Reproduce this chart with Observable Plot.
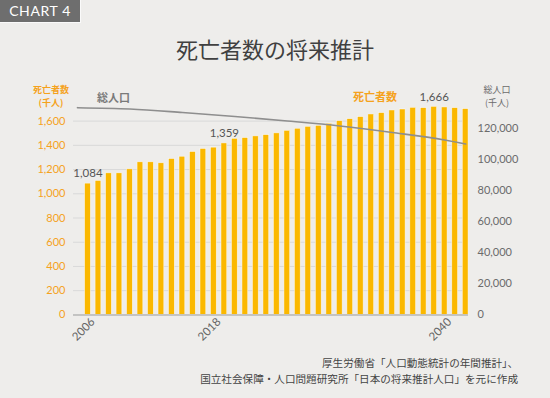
<!DOCTYPE html>
<html>
<head>
<meta charset="utf-8">
<script src="https://cdn.jsdelivr.net/npm/d3@7"></script>
<script src="https://cdn.jsdelivr.net/npm/@observablehq/plot@0.6"></script>
<style>
  html, body { margin: 0; padding: 0; background: #eeedeb; }
  #wrap { position: relative; width: 550px; height: 398px; background: #eeedeb; overflow: hidden;
          font-family: "Noto Sans CJK JP", Lato, sans-serif; }
  .abs { position: absolute; white-space: nowrap; }
  #tag { left: 0; top: 0; width: 80px; height: 22px; background: #6e6e6e; color: #fff;
         font-family: Lato, "Noto Sans", sans-serif; font-size: 14px; letter-spacing: 0.6px;
         line-height: 22px; text-align: center; border-right: 1px solid #fafafa; border-bottom: 1px solid #fafafa; }
  #title { left: 0; width: 550px; top: 33px; text-align: center; font-size: 22px; color: #404040; line-height: 30px; }
  .unit { width: 50px; text-align: center; font-size: 9px; line-height: 13px; }
  #lunit1, #lunit2 { left: 26px; color: #f5a21c; font-weight: 700; }
  #runit1, #runit2 { left: 472px; color: #6b6b6b; }
  #lunit1, #runit1 { top: 82.5px; }
  #lunit2, #runit2 { top: 95.5px; }
  #poplab { left: 97px; top: 89px; color: #7a7a7a; font-size: 11px; font-weight: 700; }
  #deathlab { left: 353px; top: 88px; color: #f5a21c; font-size: 11px; font-weight: 700; }
  #src { right: 32px; top: 355px; text-align: right; color: #444; font-size: 10.6px; line-height: 16px; }
  svg { position: absolute; left: 0; top: 0; }
</style>
</head>
<body>
<div id="wrap">
  <div id="tag" class="abs">CHART 4</div>
  <div id="title" class="abs">死亡者数の将来推計</div>
  <div id="lunit1" class="abs unit">死亡者数</div>
  <div id="lunit2" class="abs unit">(千人)</div>
  <div id="runit1" class="abs unit">総人口</div>
  <div id="runit2" class="abs unit">(千人)</div>
  <div id="poplab" class="abs">総人口</div>
  <div id="deathlab" class="abs">死亡者数</div>
  <div id="src" class="abs">厚生労働省「人口動態統計の年間推計」、<br>国立社会保障・人口問題研究所「日本の将来推計人口」を元に作成</div>
</div>
<script>
// Years (categories)
const years = [2006, 2007, 2008, 2009, 2010, 2011, 2012, 2013, 2014, 2015, 2016, 2017, 2018,
  2019, 2020, 2021, 2022, 2023, 2024, 2025, 2026, 2027, 2028, 2029, 2030, 2031, 2032, 2033,
  2034, 2035, 2036, 2037, 2038, 2039, 2040, 2041, 2042];
// Deaths (thousand persons)
const deaths = [1084, 1106, 1169, 1169, 1202, 1260, 1260, 1252, 1287, 1306, 1345, 1370, 1381,
  1416, 1454, 1460, 1474, 1484, 1499, 1520, 1537, 1553, 1561, 1578, 1600, 1616, 1633, 1655,
  1666, 1688, 1696, 1710, 1707, 1718, 1713, 1707, 1699];
// Total population (thousand persons)
const popYears = [2005, 2010, 2015, 2020, 2025, 2030, 2035, 2040, 2042];
const popValues = [133080, 132240, 130000, 127420, 124530, 121320, 117150, 112330, 109760];
// Tick labels
const leftTicks = [0, 200, 400, 600, 800, 1000, 1200, 1400, 1600];
const rightTicks = [0, 20000, 40000, 60000, 80000, 100000, 120000];
const xTicks = [2006, 2018, 2040];
// Value annotations
const labelYears = [2006, 2019, 2039];
const labelTexts = ["1,084", "1,359", "1,666"];

const leftMax = 1800, rightMax = 140000;
const ratio = leftMax / rightMax;

const bars = years.map((y, i) => ({year: y, deaths: deaths[i]}));
const pop = popYears.map((y, i) => ({year: y, pop: popValues[i]}));
const labels = labelYears.map((y, i) => ({year: y, text: labelTexts[i], v: deaths[years.indexOf(y)]}));
const fmt = d3.format(",");

const numFont = "Lato, 'Noto Sans', sans-serif";

const chart = Plot.plot({
  width: 550,
  height: 398,
  marginTop: 96.4,
  marginBottom: 83.6,
  marginLeft: 73,
  marginRight: 82,
  style: {background: "transparent", fontFamily: numFont, fontSize: "11px", overflow: "visible"},
  x: {type: "linear", domain: [2004.62, 2042.27]},
  y: {domain: [0, leftMax]},
  marks: [
    Plot.gridY(leftTicks, {stroke: "#d9d9d9", strokeOpacity: 1, strokeWidth: 1}),
    Plot.rectY(bars, {x1: d => d.year - 0.275, x2: d => d.year + 0.275, y: "deaths",
      fill: "#fbb800", stroke: "#fbfbfb", strokeWidth: 0.6, strokeOpacity: 0.8}),
    Plot.ruleY([0], {stroke: "#b8b8b8", strokeWidth: 1.5}),
    Plot.line(pop, {x: "year", y: d => d.pop * ratio, curve: "monotone-x",
      stroke: "#8e8e8e", strokeWidth: 1.6}),
    Plot.axisY(leftTicks, {anchor: "left", tickSize: 0, tickPadding: 8, fill: "#f5a21c",
      fontSize: 11, tickFormat: fmt, label: null}),
    Plot.axisY(rightTicks.map(v => v * ratio), {anchor: "right", tickSize: 0, tickPadding: 9,
      fill: "#6b6b6b", fontSize: 11, tickFormat: v => fmt(Math.round(v / ratio)), label: null}),
    Plot.axisX(xTicks, {anchor: "bottom", tickSize: 0, tickPadding: 5, tickRotate: -45,
      fill: "#666", fontSize: 11.5, tickFormat: d => String(d), label: null, dx: 5}),
    Plot.text(labels, {x: "year", y: "v", text: "text", dy: -10, fill: "#555", fontSize: 11.5})
  ]
});
document.getElementById("wrap").appendChild(chart);
</script>
</body>
</html>
